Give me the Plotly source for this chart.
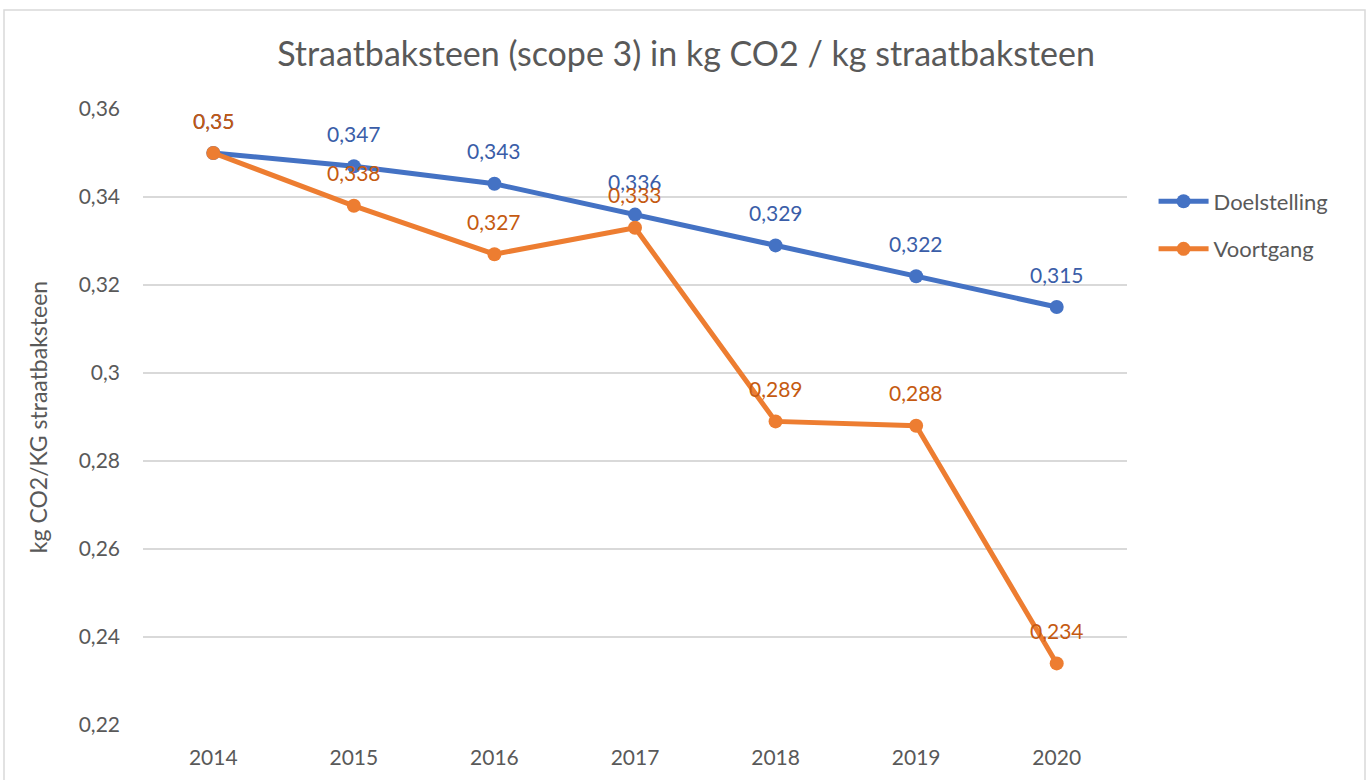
import plotly.graph_objects as go

years = ["2014", "2015", "2016", "2017", "2018", "2019", "2020"]
doelstelling = [0.35, 0.347, 0.343, 0.336, 0.329, 0.322, 0.315]
voortgang = [0.35, 0.338, 0.327, 0.333, 0.289, 0.288, 0.234]
y_ticks = [0.22, 0.24, 0.26, 0.28, 0.30, 0.32, 0.34, 0.36]
y_ticktext = ["0,22", "0,24", "0,26", "0,28", "0,3", "0,32", "0,34", "0,36"]

FONT = "Lato"
BLUE = "#4472C4"
ORANGE = "#ED7D31"
BLUE_LBL = "#3A5DA8"
ORANGE_LBL = "#C55A11"
GREY = "#595959"


def fmt(v):
    return ("%g" % v).replace(".", ",")


fig = go.Figure()
fig.add_trace(go.Scatter(
    x=years, y=doelstelling, name="Doelstelling", mode="lines+markers",
    legendgroup="a",
    line=dict(color=BLUE, width=5), marker=dict(size=14, color=BLUE),
))
fig.add_trace(go.Scatter(
    x=years, y=voortgang, name="Voortgang", mode="lines+markers",
    legendgroup="b",
    line=dict(color=ORANGE, width=5), marker=dict(size=14, color=ORANGE),
))

annotations = []
for series, col in ((doelstelling, BLUE_LBL), (voortgang, ORANGE_LBL)):
    for i, v in enumerate(series):
        annotations.append(dict(
            x=i, y=v, xref="x", yref="y", text=fmt(v), showarrow=False,
            yshift=33, font=dict(family=FONT, size=21, color=col),
        ))

fig.update_layout(
    width=1372, height=780,
    margin=dict(l=143, r=245, t=109, b=55),
    paper_bgcolor="white", plot_bgcolor="white",
    title=dict(
        text="Straatbaksteen (scope 3) in kg CO2 / kg straatbaksteen",
        x=0.5, xref="container", xanchor="center",
        y=1 - 54 / 780, yref="container", yanchor="middle",
        font=dict(family=FONT, size=34, color=GREY),
    ),
    font=dict(family=FONT, color=GREY),
    showlegend=True,
    legend=dict(
        x=1.027, y=0.884, xanchor="left", yanchor="top",
        font=dict(family=FONT, size=22, color=GREY),
        itemwidth=50, tracegroupgap=16, traceorder="grouped",
        bgcolor="rgba(0,0,0,0)",
    ),
    annotations=annotations,
    shapes=[dict(
        type="rect", xref="paper", yref="paper",
        x0=(4 - 143) / 984, x1=(1365 - 143) / 984,
        y0=-0.2, y1=1 + (109 - 10) / 616,
        line=dict(color="#D9D9D9", width=1.5), fillcolor="rgba(0,0,0,0)",
        layer="below",
    )],
)

fig.update_xaxes(
    type="category", range=[-0.5, 6.5], showgrid=False, zeroline=False,
    showline=False, ticks="", tickfont=dict(family=FONT, size=21, color=GREY),
    ticklabelstandoff=18,
)
fig.update_yaxes(
    range=[0.22, 0.36], tickvals=y_ticks, ticktext=y_ticktext,
    showgrid=True, gridcolor="#D9D9D9", gridwidth=1.5, zeroline=False,
    showline=False, ticks="", tickfont=dict(family=FONT, size=21, color=GREY),
    ticklabelstandoff=22,
    title=dict(text="kg CO2/KG straatbaksteen",
               font=dict(family=FONT, size=23, color=GREY), standoff=24),
)

fig.write_html("out.html", config={"displayModeBar": False},
               post_script="document.body.style.margin='0';")
